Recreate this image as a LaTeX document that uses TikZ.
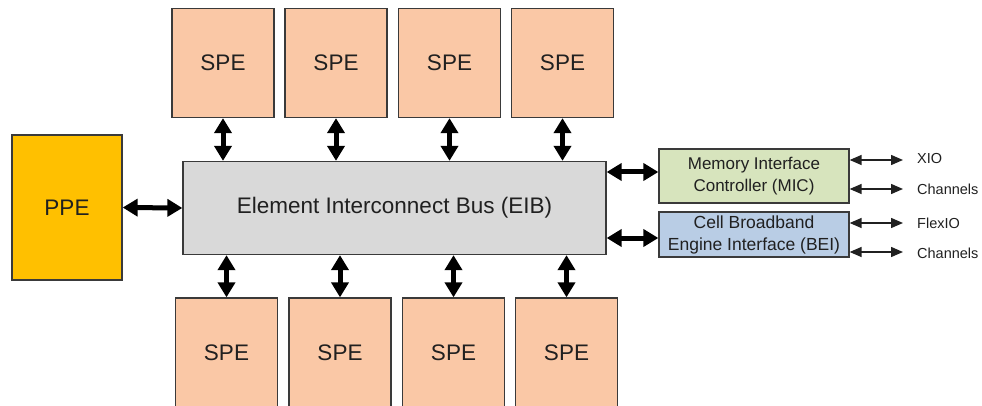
\documentclass[tikz,border=0pt]{standalone}
\usepackage{fontspec}
\setmainfont{Liberation Sans}
\usetikzlibrary{arrows.meta}
\definecolor{spefill}{HTML}{FAC8A6}
\definecolor{ppefill}{HTML}{FFC000}
\definecolor{eibfill}{HTML}{D9D9D9}
\definecolor{micfill}{HTML}{D7E4BD}
\definecolor{beifill}{HTML}{B9CDE5}
\definecolor{edge}{HTML}{3A3A3A}
\definecolor{ink}{HTML}{202020}
\tikzset{
  blk/.style={draw=edge, line width=1.3pt, text=ink, inner sep=0pt, align=center},
  spebox/.style={blk, fill=spefill, minimum width=102pt, minimum height=109pt, font=\fontsize{22.5}{26}\selectfont},
  bus/.style={line width=5pt, {Triangle[length=15pt,width=17pt]}-{Triangle[length=15pt,width=17pt]}},
  io/.style={line width=1.4pt, ink, {Triangle[length=12pt,width=10pt]}-{Triangle[length=12pt,width=10pt]}},
  iolabel/.style={anchor=west, inner sep=0pt, text=ink, font=\fontsize{14.5}{17}\selectfont}
}
\begin{document}
\begin{tikzpicture}[x=1pt,y=-1pt]
\useasboundingbox (0,0) rectangle (982,406);

% central bus and PPE
\node[blk, fill=eibfill, minimum width=423pt, minimum height=93pt, font=\fontsize{22.5}{26}\selectfont]
  (eib) at (394.5,208) {Element Interconnect Bus (EIB)};
\node[blk, fill=ppefill, minimum width=110pt, minimum height=145pt, font=\fontsize{22.5}{26}\selectfont]
  (ppe) at (67,207.5) {PPE};

% SPEs above the bus
\node[spebox] (t1) at (223,63) {SPE};
\node[spebox] (t2) at (336,63) {SPE};
\node[spebox] (t3) at (449.5,63) {SPE};
\node[spebox] (t4) at (562.5,63) {SPE};

% SPEs below the bus
\node[spebox] (b1) at (226.5,352.5) {SPE};
\node[spebox] (b2) at (340,352.5) {SPE};
\node[spebox] (b3) at (453.5,352.5) {SPE};
\node[spebox] (b4) at (566.5,352.5) {SPE};

% interface controllers
\node[blk, fill=micfill, minimum width=190pt, minimum height=54pt, font=\fontsize{17}{22}\selectfont]
  (mic) at (754,176) {Memory Interface\\Controller (MIC)};
\node[blk, fill=beifill, minimum width=190pt, minimum height=45pt, font=\fontsize{17.5}{22}\selectfont]
  (bei) at (754,234.5) {Cell Broadband\\Engine Interface (BEI)};

% bus connections
\draw[bus] (ppe.east) -- (eib.west);
\foreach \n in {1,2,3,4} {
  \draw[bus] (t\n.south) -- (t\n.south |- eib.north);
  \draw[bus] (b\n.north) -- (b\n.north |- eib.south);
}
\draw[bus] (eib.east |- 0,172) -- (mic.west |- 0,172);
\draw[bus] (eib.east |- 0,238) -- (bei.west |- 0,238);

% external I/O
\coordinate (x1) at (903,160);
\coordinate (x2) at (903,189);
\coordinate (x3) at (903,223);
\coordinate (x4) at (903,252);
\draw[io] (mic.east |- x1) -- (x1);
\draw[io] (mic.east |- x2) -- (x2);
\draw[io] (bei.east |- x3) -- (x3);
\draw[io] (bei.east |- x4) -- (x4);
\node[iolabel] (l1) at (917,159) {XIO};
\node[iolabel] (l2) at (917,189) {Channels};
\node[iolabel] (l3) at (917,223) {FlexIO};
\node[iolabel] (l4) at (917,253) {Channels};
\end{tikzpicture}
\end{document}
